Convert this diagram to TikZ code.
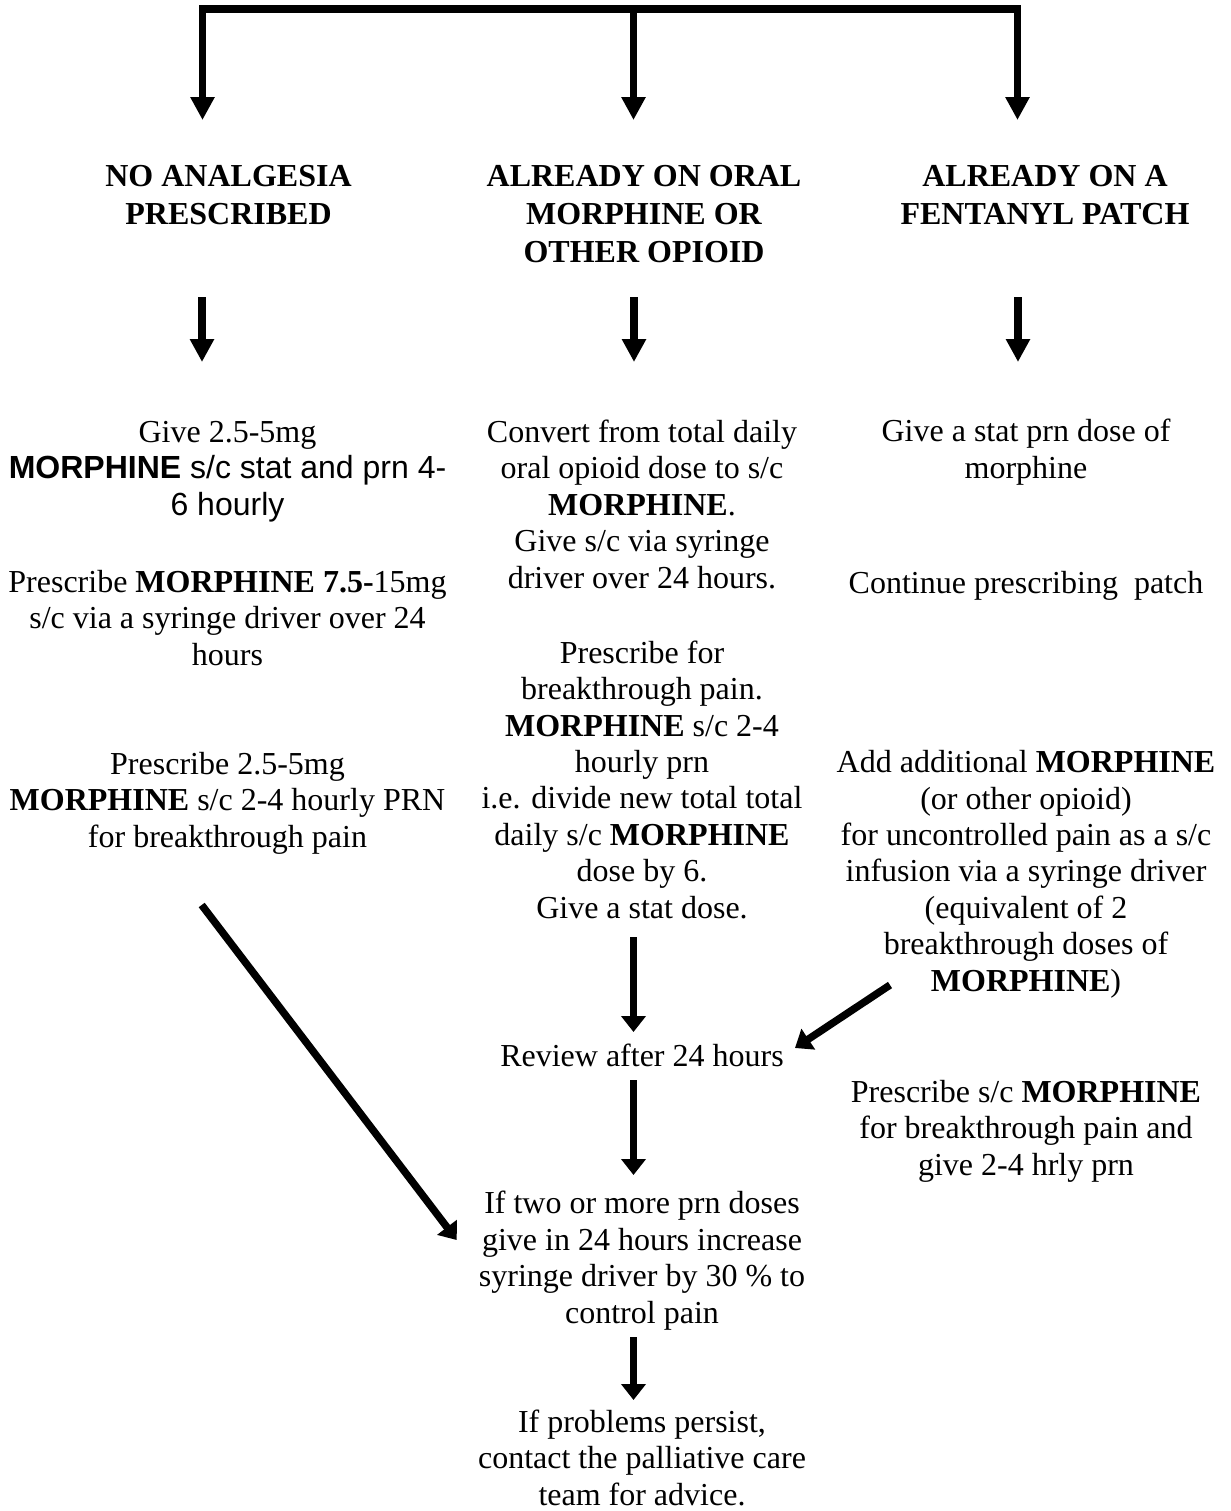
\documentclass[tikz,border=0pt]{standalone}
\usepackage{fontspec}
\setmainfont{Liberation Serif}
\newfontfamily\arialfont{Liberation Sans}
\usetikzlibrary{arrows.meta}

\begin{document}
\begin{tikzpicture}[x=0.375pt, y=-0.375pt,
    txt/.style={align=center, inner sep=0pt, anchor=base, font=\fontsize{12}{13.65}\selectfont},
    head/.style={txt, font=\fontsize{12}{14.25}\selectfont\bfseries},
    bar/.style={line width=3pt},
    longarr/.style={line width=2.8pt, -{Triangle[length=8.6pt,width=8.6pt]}},
    shortarr/.style={line width=2.8pt, -{Triangle[length=6pt,width=9pt]}}
]
\useasboundingbox (0,0) rectangle (1230,1511);

\node[head] (noan) at (228.5,224) {NO ANALGESIA\\PRESCRIBED};
\node[head] (oral) at (644,262) {ALREADY ON ORAL\\MORPHINE OR\\OTHER OPIOID};
\node[head] (fent) at (1045,224) {ALREADY ON A\\FENTANYL PATCH};

\node[txt] (givel) at (227.5,515) {Give 2.5-5mg\\{\arialfont\textbf{MORPHINE} s/c stat and prn 4-}\\{\arialfont 6 hourly}};
\node[txt] (drivel) at (227.5,665) {Prescribe \textbf{MORPHINE 7.5-}15mg\\s/c via a syringe driver over 24\\hours};
\node[txt] (prnl) at (227.5,847) {Prescribe 2.5-5mg\\\textbf{MORPHINE} s/c 2-4 hourly PRN\\for breakthrough pain};

\node[txt] (conv) at (642,588) {Convert from total daily\\oral opioid dose to s/c\\\textbf{MORPHINE}.\\Give s/c via syringe\\driver over 24 hours.};
\node[txt] (brk) at (642,918) {Prescribe for\\breakthrough pain.\\\textbf{MORPHINE} s/c 2-4\\hourly prn\\i.e. divide new total total\\daily s/c \textbf{MORPHINE}\\dose by 6.\\Give a stat dose.};
\node[txt] (review) at (642,1066.7) {Review after 24 hours};
\node[txt] (incr) at (642,1323) {If two or more prn doses\\give in 24 hours increase\\syringe driver by 30 \% to\\control pain};
\node[txt] (advice) at (642,1505) {If problems persist,\\contact the palliative care\\team for advice.};

\node[txt] (statr) at (1026,478) {Give a stat prn dose of\\morphine};
\node[txt] (patch) at (1026,593) {Continue prescribing\ \ patch};
\node[txt] (addr) at (1026,991) {Add additional \textbf{MORPHINE}\\(or other opioid)\\for uncontrolled pain as a s/c\\infusion via a syringe driver\\(equivalent of 2\\breakthrough doses of\\\textbf{MORPHINE})};
\node[txt] (prnr) at (1026,1175) {Prescribe s/c \textbf{MORPHINE}\\for breakthrough pain and\\give 2-4 hrly prn};

\coordinate (barl) at (199,9);
\coordinate (barr) at (1021,9);
\coordinate (top1) at (202.5,9);
\coordinate (top2) at (633.5,9);
\coordinate (top3) at (1017.5,9);
\coordinate (tip1) at (202.5,120);
\coordinate (tip2) at (633.5,120);
\coordinate (tip3) at (1017.5,120);
\draw[bar] (barl) -- (barr);
\draw[longarr] (top1) -- (tip1);
\draw[longarr] (top2) -- (tip2);
\draw[longarr] (top3) -- (tip3);

\coordinate (s1) at (202,297);
\coordinate (e1) at (202,362);
\coordinate (s2) at (634,297);
\coordinate (e2) at (634,362);
\coordinate (s3) at (1018,297);
\coordinate (e3) at (1018,362);
\draw[longarr] (s1) -- (e1);
\draw[longarr] (s2) -- (e2);
\draw[longarr] (s3) -- (e3);

\coordinate (brkout) at (633.5,937);
\coordinate (revin) at (633.5,1032);
\coordinate (revout) at (633.5,1080);
\coordinate (incrin) at (633.5,1175);
\coordinate (incrout) at (633.5,1337);
\coordinate (advin) at (633.5,1400);
\draw[shortarr] (brkout) -- (revin);
\draw[shortarr] (revout) -- (incrin);
\draw[shortarr] (incrout) -- (advin);

\coordinate (prnlout) at (201.7,905);
\coordinate (incrw) at (456.7,1240);
\coordinate (addrout) at (890,985);
\coordinate (reve) at (795,1048);
\draw[shortarr] (prnlout) -- (incrw);
\draw[shortarr] (addrout) -- (reve);
\end{tikzpicture}
\end{document}
